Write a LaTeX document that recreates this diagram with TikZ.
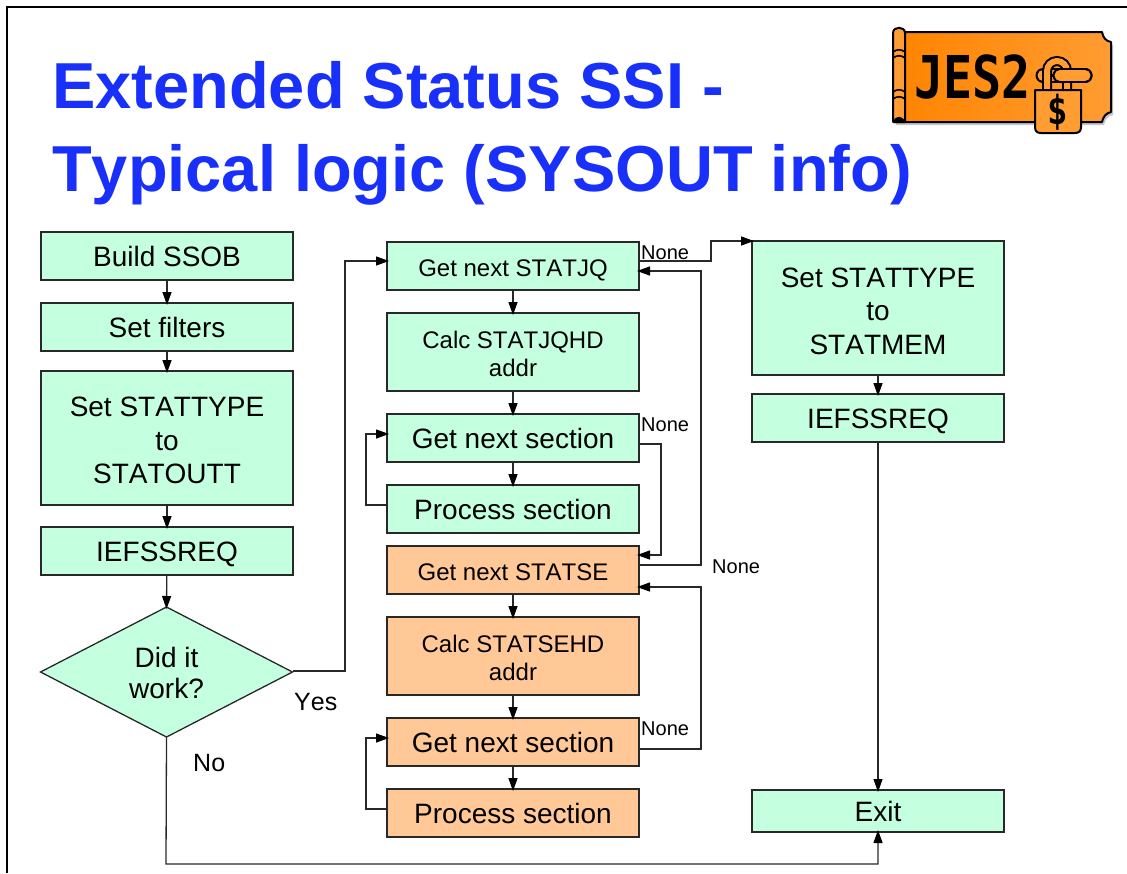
\documentclass[tikz,border=0pt]{standalone}
\usepackage{fontspec}
\setmainfont[Kerning=Off]{Liberation Sans}
\newfontfamily\logofont{DejaVu Sans Mono}
\usetikzlibrary{arrows.meta,shapes.geometric}
\definecolor{titleblue}{RGB}{24,48,250}
\definecolor{boxgreen}{RGB}{196,255,223}
\definecolor{boxorange}{RGB}{255,200,150}
\definecolor{lineink}{RGB}{40,40,40}
\definecolor{logoA}{RGB}{255,132,0}
\definecolor{logoB}{RGB}{255,156,50}
\newcommand{\stackL}[2]{\raisebox{-#1pt}[0pt][0pt]{\begin{tabular}{@{}c@{}}#2\end{tabular}}}
\newcommand{\logoBody}{(900,32) -- (1102,32) .. controls (1103,38) and (1106,41) .. (1111,42)
  -- (1111,112) .. controls (1106,113) and (1103,117) .. (1102,122) -- (894,122) -- cycle}
\tikzset{
  txtL/.style={font=\fontsize{28}{33.5}\selectfont},
  txtM/.style={font=\fontsize{24}{28}\selectfont},
  txtD/.style={font=\fontsize{28}{31}\selectfont},
  oneL/.style={txtL,text height=21pt,text depth=0pt},
  oneM/.style={txtM,text height=21pt,text depth=0pt},
  box/.style={draw=lineink,line width=1.3pt,minimum width=252pt,inner sep=0pt,outer sep=0pt,text=black},
  gbox/.style={box,fill=boxgreen},
  obox/.style={box,fill=boxorange},
  conn/.style={draw=lineink,line width=1.3pt,shorten >=-2pt,-{Triangle[length=13pt,width=9pt,color=black]}},
  lbl/.style={font=\fontsize{25}{30}\selectfont,inner sep=0pt,text=black},
  lbls/.style={font=\fontsize{20}{24}\selectfont,inner sep=0pt,text=black},
  ttl/.style={font=\fontsize{65}{70}\selectfont\bfseries,text=titleblue,anchor=base west,inner sep=0pt},
  logoline/.style={draw=black,line width=2pt,line join=round}
}
\begin{document}
\begin{tikzpicture}[x=1pt,y=-1pt]
\useasboundingbox (0,0) rectangle (1127,873);
\fill[white] (0,0) rectangle (1127,873);
% slide frame
\draw[black,line width=1.2pt] (7,873) -- (7,7) -- (1127,7);
% title
\node[ttl] (t1) at (52,108) {Extended Status SSI -};
\node[ttl] (t2) at (52,191) {Typical logic (SYSOUT info)};
% logo
\begin{scope}[xshift=2pt,yshift=-3pt]
\fill[gray!45] \logoBody;
\end{scope}
\path[logoline,left color=logoA,right color=logoB] \logoBody;
\path[logoline,fill=logoB] (893,122) -- (893,33) .. controls (893,26) and (905,26) .. (905,33) -- (905,122) -- cycle;
\draw[black,line width=1.6pt] (893,52) .. controls (897,49) and (901,49) .. (905,52)
  (893,58) .. controls (897,55) and (901,55) .. (905,58)
  (893,92) .. controls (897,89) and (901,89) .. (905,92)
  (893,99) .. controls (897,96) and (901,96) .. (905,99);
\fill[black] (893,122) .. controls (895,115) and (903,115) .. (905,122) -- cycle;
\node[inner sep=0pt,anchor=base west,xscale=.82,text=black] (jes) at (914,98) {\logofont\fontsize{59}{60}\selectfont\bfseries JES2};
% lock: back of clip, shackle, front of clip, body
\draw[black,line width=15pt,line cap=round] (1043,75.5) -- (1085,75.5);
\draw[logoB,line width=11pt,line cap=round] (1043,75.5) -- (1085,75.5);
\draw[black,line width=3pt,line cap=round] (1043,75.5) -- (1060,75.5);
\draw[black,line width=10pt,rounded corners=10pt] (1047,92) -- (1047,61) -- (1067,61) -- (1067,92);
\draw[logoB,line width=6pt,rounded corners=10pt] (1047,92) -- (1047,61) -- (1067,61) -- (1067,92);
\draw[black,line width=15pt,line cap=round] (1060,75.5) -- (1085,75.5);
\draw[logoB,line width=11pt,line cap=round] (1060,75.5) -- (1085,75.5);
\path[logoline,fill=logoB] (1035,90) -- (1081,90) -- (1081,127) .. controls (1081,131) and (1079,133) .. (1075,133) -- (1041,133) .. controls (1037,133) and (1035,131) .. (1035,127) -- cycle;
\node[inner sep=0pt,xscale=.85,text=black] (dollar) at (1057.5,112) {\logofont\fontsize{40}{40}\selectfont\bfseries\$};
% left column
\node[gbox,oneL,minimum height=48pt] (b1) at (167,256) {Build SSOB};
\node[gbox,oneL,minimum height=48pt] (b2) at (167,327) {Set filters};
\node[gbox,txtL,minimum height=134pt] (b3) at (167,438) {\stackL{12}{Set STATTYPE\\to\\STATOUTT}};
\node[gbox,oneL,minimum height=48pt] (b4) at (167,551) {IEFSSREQ};
\node[draw=lineink,fill=boxgreen,line width=1.3pt,diamond,aspect=1.93,minimum width=252pt,minimum height=130pt,inner sep=0pt,outer sep=0pt,txtD] (d1) at (166.5,672) {\stackL{11}{Did it\\work?}};
% middle column
\node[gbox,oneM,minimum height=48pt] (m1) at (513,266) {Get next STATJQ};
\node[gbox,txtM,minimum height=78pt] (m2) at (513,352) {\stackL{11}{Calc STATJQHD\\addr}};
\node[gbox,oneL,minimum height=48pt] (m3) at (513,438) {Get next section};
\node[gbox,oneL,minimum height=48pt] (m4) at (513,509) {Process section};
\node[obox,oneM,minimum height=48pt] (m5) at (513,570) {Get next STATSE};
\node[obox,txtM,minimum height=78pt] (m6) at (513,656) {\stackL{11}{Calc STATSEHD\\addr}};
\node[obox,oneL,minimum height=48pt] (m7) at (513,742) {Get next section};
\node[obox,oneL,minimum height=48pt] (m8) at (513,813) {Process section};
% right column
\node[gbox,txtL,minimum height=134pt] (r1) at (878,308) {\stackL{12.5}{Set STATTYPE\\to\\STATMEM}};
\node[gbox,oneL,minimum height=48pt] (r2) at (878,418) {IEFSSREQ};
\node[gbox,oneL,minimum height=42pt] (r3) at (878,811) {Exit};
% labels
\node[lbls,anchor=west] (n1) at (641,253) {None};
\node[lbls,anchor=west] (n2) at (641,425) {None};
\node[lbls,anchor=west] (n3) at (712,567) {None};
\node[lbls,anchor=west] (n4) at (641,729) {None};
\node[lbl,anchor=west] (yes) at (294,702) {Yes};
\node[lbl,anchor=west] (no) at (193,763) {No};
% bend points
\coordinate (c1) at (711,261);
\coordinate (c2) at (711,241);
\coordinate (c3) at (701,565);
\coordinate (c4) at (701,271);
\coordinate (c5) at (661,444);
\coordinate (c6) at (661,555);
\coordinate (c7) at (701,749);
\coordinate (c8) at (701,587);
\coordinate (c9) at (366,505);
\coordinate (c10) at (366,434);
\coordinate (c12) at (366,738);
\coordinate (c13) at (366,809);
\coordinate (c14) at (345,671);
\coordinate (c15) at (345,261);
\coordinate (c16) at (166,864);
\coordinate (c17) at (878,864);
% connectors
\draw[conn] (b1) -- (b2);
\draw[conn] (b2) -- (b3);
\draw[conn] (b3) -- (b4);
\draw[conn] (b4) -- (d1.north);
\draw[conn] (d1.east |- c14) -- (c14) -- (c15) -- (m1.west |- c15);
\draw[conn] (d1.south) -- (c16) -- (c17) -- (r3.south);
\draw[conn] (m1) -- (m2);
\draw[conn] (m2) -- (m3);
\draw[conn] (m3) -- (m4);
\draw[conn] (m4.west |- c9) -- (c9) -- (c10) -- (m3.west |- c10);
\draw[conn] (m5) -- (m6);
\draw[conn] (m6) -- (m7);
\draw[conn] (m7) -- (m8);
\draw[conn] (m8.west |- c13) -- (c13) -- (c12) -- (m7.west |- c12);
\draw[conn] (m1.east |- c1) -- (c1) -- (c2) -- (r1.west |- c2);
\draw[conn] (m5.east |- c3) -- (c3) -- (c4) -- (m1.east |- c4);
\draw[conn] (m3.east |- c5) -- (c5) -- (c6) -- (m5.east |- c6);
\draw[conn] (m7.east |- c7) -- (c7) -- (c8) -- (m5.east |- c8);
\draw[conn] (r1) -- (r2);
\draw[conn] (r2) -- (r3);
\end{tikzpicture}
\end{document}
